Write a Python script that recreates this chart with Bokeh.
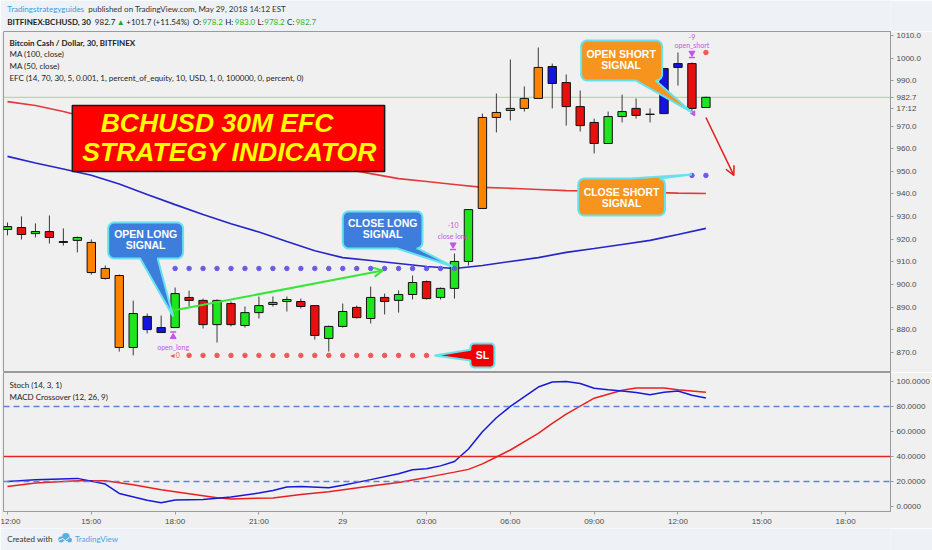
import numpy as np
from bokeh.plotting import figure
from bokeh.layouts import column
from bokeh.models import (Range1d, FixedTicker, PrintfTickFormatter, Span, Arrow,
                          OpenHead, ColumnDataSource)
from bokeh.core.properties import value
from bokeh.embed import file_html
from bokeh.resources import INLINE

# ---------------- BCHUSD 30-minute bars (Bitfinex), 28 May 12:00 -> 29 May 13:00 ----------------
bar_open = [924.3, 925.2, 922.5, 923.4, 919.0, 919.5, 918.6, 907.1, 904.0, 872.2,
            885.9, 881.0, 881.0, 894.3, 893.0, 882.3, 891.6, 881.9, 887.6, 891.2,
            892.5, 892.5, 890.7, 876.2, 881.5, 889.9, 885.0, 894.3, 893.0, 895.6,
            901.3, 894.3, 898.3, 910.2, 933.6, 973.8, 976.9, 977.8, 982.2, 996.3,
            989.2, 978.6, 971.6, 962.3, 974.2, 977.8, 975.1, 975.5, 995.9, 997.6,
            978.2]
bar_high = [927.4, 930.1, 927.0, 930.5, 924.8, 921.2, 919.9, 908.4, 904.4, 892.9,
            887.2, 886.3, 898.7, 897.3, 893.8, 893.4, 892.5, 890.3, 894.7, 894.7,
            894.7, 893.8, 890.7, 881.9, 891.6, 890.7, 899.1, 896.0, 897.4, 904.0,
            901.8, 898.7, 913.7, 933.1, 975.5, 984.4, 999.4, 987.5, 1004.7, 997.6,
            992.8, 985.7, 973.3, 976.4, 983.9, 982.2, 977.8, 995.4, 1002.5, 998.1,
            983.0]
bar_low = [921.7, 919.9, 920.8, 918.1, 917.2, 914.2, 904.4, 902.2, 870.4, 868.7,
           878.4, 878.8, 881.0, 890.3, 880.6, 874.4, 881.5, 881.0, 885.0, 890.3,
           888.1, 889.4, 875.7, 870.4, 881.0, 885.0, 882.8, 886.8, 887.6, 893.4,
           893.4, 893.4, 893.8, 908.4, 933.6, 967.2, 972.5, 976.4, 982.2, 977.8,
           970.2, 967.6, 957.9, 962.3, 971.6, 973.3, 971.6, 975.5, 987.9, 976.0,
           978.2]
bar_close = [925.6, 922.1, 923.4, 920.8, 918.6, 920.8, 905.3, 902.7, 872.2, 887.2,
             880.1, 878.8, 896.0, 893.0, 882.3, 893.0, 882.3, 887.6, 890.7, 892.1,
             893.4, 890.3, 877.5, 881.5, 888.1, 885.4, 894.3, 892.5, 895.6, 900.9,
             893.8, 898.3, 910.2, 933.1, 973.8, 976.0, 977.8, 982.2, 995.9, 988.8,
             978.6, 970.2, 962.3, 974.2, 976.4, 974.7, 975.3, 995.4, 997.6, 977.8,
             982.7]
# EFC bar colouring: g = bull, r = bear, o = momentum, b = exhaustion
bar_regime = list("grgrrgooogbbgrrgrggggrrggrgrggrgggooooobrrrggrgbbrg")

# moving averages (read every second bar)
ma_bar = list(range(0, 51, 2))
ma100 = [980.8, 979.1, 976.4, 973.3, 970.7, 968.0, 965.4, 962.7, 960.1, 957.9,
         955.7, 953.5, 951.3, 949.0, 946.8, 945.5, 944.2, 942.9, 942.5, 942.0,
         941.5, 941.3, 941.1, 940.7, 940.4, 940.2]
ma50 = [956.6, 953.7, 951.0, 948.3, 944.4, 939.8, 935.3, 930.9, 926.9, 923.2,
        919.0, 914.9, 911.9, 910.6, 909.3, 908.0, 907.1, 908.4, 910.2, 911.9,
        914.2, 915.9, 917.7, 919.5, 922.1, 924.8]

# stochastic %K and %D
k_bar = [0, 2, 5, 7, 8, 10, 11, 12, 14, 16, 18, 19, 20, 21, 23, 24, 26, 28, 29, 30,
         31, 32, 33, 34, 35, 36, 38, 39, 40, 41, 42, 43, 44, 45, 46, 47, 48, 49, 50]
k_val = [20.1, 21.4, 22.5, 18.0, 10.5, 5.0, 3.0, 5.3, 5.6, 7.6, 10.8, 12.9, 15.6, 16.1,
         15.1, 17.0, 21.5, 26.2, 29.4, 30.2, 32.5, 36.0, 46.0, 59.8, 71.0, 80.0, 95.5,
         99.5, 100.0, 98.4, 94.5, 93.3, 92.4, 91.2, 89.4, 91.3, 92.3, 88.9, 86.7]
d_bar = [0, 2, 5, 7, 9, 11, 13, 15, 16, 19, 21, 23, 26, 28, 30, 32, 33, 34, 35, 36,
         38, 39, 40, 42, 44, 45, 47, 48, 50]
d_val = [16.1, 18.8, 20.6, 20.6, 17.5, 13.4, 10.3, 7.0, 6.1, 6.9, 9.6, 11.8, 16.4,
         19.3, 23.3, 27.5, 29.7, 34.1, 39.6, 45.2, 58.5, 66.4, 73.8, 86.6, 93.0, 94.7,
         94.7, 93.4, 91.3]

# strategy levels
long_target = 907.1
long_target_bars = list(range(12, 33))
long_stop = 868.7
long_stop_bars = list(range(13, 31))
short_stop = 1002.5
short_stop_bars = [50]
short_target = 948.2
short_target_bars = [49, 50]
last_price = 982.7
bar_countdown = "17:12"

time_tick_bars = [0, 6, 12, 18, 24, 30, 36, 42, 48, 54, 60]
time_tick_labels = ["12:00", "15:00", "18:00", "21:00", "29", "03:00",
                    "06:00", "09:00", "12:00", "15:00", "18:00"]
price_ticks = [870, 880, 890, 900, 910, 920, 930, 940, 950, 960, 970, 990, 1000, 1010]
osc_ticks = [0, 20, 40, 60, 80, 100]
osc_bands = [20, 80]
osc_signal = 40

# ---------------- layout ----------------
W = 932
LEFT, RIGHT = 3, 40
BAR_PX = 14.0
FRAME_W = W - LEFT - RIGHT
HEAD_H, MAIN_H, OSC_H, OSC_AXIS, FOOT_H = 31, 341, 156, 16, 22
X0 = -4.0 / BAR_PX
xr = Range1d(X0, X0 + FRAME_W / BAR_PX)
P_TOP, P_BOT = 1011.77, 861.15
USD_PX = MAIN_H / (P_TOP - P_BOT)

PANE_BG = "#f0f0f0"
PAGE_BG = "#eef2f6"
UI = value("Lato")
SANS = value("Liberation Sans")
VIOLET = "#c255e6"


def style_right_axis(ax, ticks, fmt):
    ax.ticker = FixedTicker(ticks=ticks)
    ax.formatter = PrintfTickFormatter(format=fmt)
    ax.major_label_text_font = "Liberation Sans"
    ax.major_label_text_font_size = "8px"
    ax.major_label_text_color = "#4a4a4a"
    ax.axis_line_color = "#9a9a9a"
    ax.major_tick_line_color = "#9a9a9a"
    ax.major_tick_in = 0
    ax.major_tick_out = 3
    ax.minor_tick_line_color = None
    ax.major_label_standoff = 3


# ---------------- header ----------------
head = figure(width=W, height=HEAD_H, x_range=Range1d(0, W), y_range=Range1d(HEAD_H, 0),
              output_backend="svg", toolbar_location=None, x_axis_location=None,
              y_axis_location=None, min_border=0, outline_line_color=None,
              background_fill_color=PAGE_BG, border_fill_color=PAGE_BG)
head.xgrid.visible = False
head.ygrid.visible = False
GREEN_TXT = "#2cb52c"
head_rows = [
    (4, 8, "Tradingstrategyguides", "#3d9ad9", "normal"),
    (89, 8, "published on TradingView.com, May 29, 2018 14:12 EST", "#333333", "normal"),
    (4, 21, "BITFINEX:BCHUSD, 30", "#222222", "bold"),
    (96, 21, "982.7", "#222222", "normal"),
    (119, 21, "\u25b2", "#22a822", "normal"),
    (129, 21, "+101.7 (+11.54%)", "#222222", "normal"),
    (199, 21, "O:", "#222222", "normal"),
    (209, 21, "978.2", GREEN_TXT, "normal"),
    (233, 21, "H:", "#222222", "normal"),
    (243, 21, "983.0", GREEN_TXT, "normal"),
    (267, 21, "L:", "#222222", "normal"),
    (274, 21, "978.2", GREEN_TXT, "normal"),
    (298, 21, "C:", "#222222", "normal"),
    (307, 21, "982.7", GREEN_TXT, "normal"),
]
for hx, hy, txt, col, wt in head_rows:
    head.text(x=[hx], y=[hy], text=[txt], text_font=UI, text_font_size="8px",
              text_color=col, text_font_style=wt, text_baseline="middle")

# ---------------- price pane ----------------
main = figure(width=W, height=MAIN_H, x_range=xr, y_range=Range1d(P_BOT, P_TOP),
              output_backend="svg", toolbar_location=None, y_axis_location="right",
              x_axis_location=None, min_border_left=LEFT, min_border_right=RIGHT,
              min_border_top=0, min_border_bottom=0, background_fill_color=PANE_BG,
              border_fill_color=PANE_BG, outline_line_color="#9a9a9a")
main.xgrid.visible = False
main.ygrid.visible = False

# price scale, with the last-price tag and bar countdown sitting on it
countdown_at = round(last_price - 11 / USD_PX, 1)
style_right_axis(main.yaxis[0], price_ticks + [last_price, countdown_at], "%.1f")
main.yaxis[0].major_label_overrides = {last_price: "%.1f" % last_price,
                                       countdown_at: bar_countdown}

main.add_layout(Span(location=last_price, dimension="width", line_color="#8fe08f",
                     line_width=1, level="underlay"))

main.line(ma_bar, ma100, line_color="#e23a3a", line_width=1.6)
main.line(ma_bar, ma50, line_color="#2525c8", line_width=1.6)

regime_color = {"g": "#1ee61e", "r": "#e80f0f", "o": "#ff8200", "b": "#1414e0"}
bars = ColumnDataSource(dict(
    x=list(range(len(bar_open))),
    top=[max(o, c) for o, c in zip(bar_open, bar_close)],
    bottom=[min(o, c) for o, c in zip(bar_open, bar_close)],
    high=bar_high, low=bar_low,
    color=[regime_color[r] for r in bar_regime],
))
main.segment(x0="x", y0="low", x1="x", y1="high", line_color="#3a3a3a", line_width=1,
             source=bars)
main.vbar(x="x", width=0.6, top="top", bottom="bottom", fill_color="color",
          line_color="#111111", line_width=1, source=bars)

# strategy target / stop dots
main.scatter(long_target_bars, [long_target] * len(long_target_bars), size=4.5,
             color="#6a5ae8")
main.scatter(long_stop_bars, [long_stop] * len(long_stop_bars), size=4.5, color="#ee5a5a")
main.scatter(short_stop_bars, [short_stop] * len(short_stop_bars), size=4.5, color="#ee5a5a")
main.scatter(short_target_bars, [short_target] * len(short_target_bars), size=4.5,
             color="#6a5ae8")

# order markers
main.scatter([11.86], [876.9], marker="triangle", size=6, color=VIOLET)
main.scatter([11.86], [879.0], marker="dash", size=6, line_color=VIOLET, line_width=1.5)
main.text(x=[11.86], y=[872.4], text=["open_long"], text_font=UI, text_font_size="7px",
          text_color=VIOLET, text_align="center", text_baseline="middle")
main.text(x=[11.95], y=[868.7], text=["\u25c40"], text_font=UI, text_font_size="7px",
          text_color="#e85a5a", text_align="center", text_baseline="middle")
main.text(x=[31.9], y=[926.1], text=["-10"], text_font=UI, text_font_size="7px",
          text_color=VIOLET, text_align="center", text_baseline="middle")
main.text(x=[31.9], y=[921.3], text=["close long"], text_font=UI, text_font_size="7px",
          text_color=VIOLET, text_align="center", text_baseline="middle")
main.scatter([31.9], [917.6], marker="inverted_triangle", size=6, color=VIOLET)
main.scatter([31.9], [915.5], marker="dash", size=6, line_color=VIOLET, line_width=1.5)
main.text(x=[49.0], y=[1009.4], text=["-9"], text_font=UI, text_font_size="7px",
          text_color=VIOLET, text_align="center", text_baseline="middle")
main.text(x=[49.0], y=[1005.6], text=["open_short"], text_font=UI, text_font_size="7px",
          text_color=VIOLET, text_align="center", text_baseline="middle")
main.scatter([49.0], [1002.3], marker="inverted_triangle", size=6, color=VIOLET)
main.scatter([49.0], [1000.3], marker="dash", size=6, line_color=VIOLET, line_width=1.5)
main.scatter([49.1], [975.6], marker="triangle", angle=np.pi / 2, size=5, color=VIOLET)

# trade direction arrows
main.add_layout(Arrow(end=OpenHead(size=9, line_color="#36e836", line_width=2),
                      x_start=11.86, y_start=888.5, x_end=26.86, y_end=906.2,
                      line_color="#36e836", line_width=2))
main.add_layout(Arrow(end=OpenHead(size=9, line_color="#e81a1a", line_width=1.5),
                      x_start=50.0, y_start=973.8, x_end=52.0, y_end=948.2,
                      line_color="#e81a1a", line_width=1.5))


def callout(fig, box, side, span, tip, fill, r=6.0):
    """Rounded speech-bubble; box/span/tip in bar-index and price units."""
    i0, i1, top, bot = box
    x0, x1, y0, y1 = i0 * BAR_PX, i1 * BAR_PX, bot * USD_PX, top * USD_PX
    if side in ("top", "bottom"):
        s0, s1 = span[0] * BAR_PX, span[1] * BAR_PX
    else:
        s0, s1 = span[0] * USD_PX, span[1] * USD_PX
    tp = (tip[0] * BAR_PX, tip[1] * USD_PX)
    pts = []

    def arc(cx, cy, a0):
        for t in np.linspace(a0, a0 + np.pi / 2, 6):
            pts.append((cx + r * np.cos(t), cy + r * np.sin(t)))

    arc(x1 - r, y1 - r, 0.0)
    if side == "top":
        pts.extend([(s1, y1), tp, (s0, y1)])
    arc(x0 + r, y1 - r, np.pi / 2)
    if side == "left":
        pts.extend([(x0, s1), tp, (x0, s0)])
    arc(x0 + r, y0 + r, np.pi)
    if side == "bottom":
        pts.extend([(s0, y0), tp, (s1, y0)])
    arc(x1 - r, y0 + r, 1.5 * np.pi)
    if side == "right":
        pts.extend([(x1, s0), tp, (x1, s1)])
    fig.patch([q[0] / BAR_PX for q in pts], [q[1] / USD_PX for q in pts],
              fill_color=fill, line_color="#66e2ee", line_width=2)


def bubble_text(fig, x, ys, lines, size="10.5px", color="white"):
    fig.text(x=[x] * len(lines), y=ys, text=lines, text_font=SANS, text_font_size=size,
             text_font_style="bold", text_color=color, text_align="center",
             text_baseline="middle")


BLUE_BOX = "#3d7edc"
ORANGE_BOX = "#f7941e"

callout(main, (7.21, 12.57, 927.4, 911.5), "bottom", (9.5, 10.75), (11.86, 885.9), BLUE_BOX)
bubble_text(main, 9.89, [922.5, 917.3], ["OPEN LONG", "SIGNAL"])

callout(main, (24.0, 29.71, 932.3, 915.9), "bottom", (27.9, 29.4), (31.86, 908.0), BLUE_BOX)
bubble_text(main, 26.86, [927.4, 922.4], ["CLOSE LONG", "SIGNAL"])

callout(main, (41.07, 46.86, 1007.8, 990.1), "bottom", (45.0, 46.4), (49.0, 976.0), ORANGE_BOX)
bubble_text(main, 43.93, [1001.9, 997.0], ["OPEN SHORT", "SIGNAL"])

callout(main, (40.86, 47.07, 946.8, 930.5), "top", (44.6, 46.7), (49.0, 948.6), ORANGE_BOX)
bubble_text(main, 43.96, [940.8, 936.2], ["CLOSE SHORT", "SIGNAL"])

callout(main, (33.14, 34.86, 874.0, 863.4), "left", (866.4, 871.2), (30.57, 868.7), "#ee0000",
        r=4.0)
bubble_text(main, 34.0, [868.7], ["SL"])

# headline banner
main.quad(left=[4.64], right=[27.0], top=[979.1], bottom=[949.9], fill_color="#ff0000",
          line_color="#1a1a1a", line_width=1.5)
main.text(x=[15.0, 15.9], y=[971.4, 958.4], text=["BCHUSD 30M EFC", "STRATEGY INDICATOR"],
          text_font=SANS, text_font_size="26.5px", text_font_style="bold italic",
          text_color="#ffff00", text_align="center", text_baseline="middle")

# pane legend
leg_x = X0 + 6 / BAR_PX
leg_rows = [("Bitcoin Cash / Dollar, 30, BITFINEX", "bold"), ("MA (100, close)", "normal"),
            ("MA (50, close)", "normal"),
            ("EFC (14, 70, 30, 5, 0.001, 1, percent_of_equity, 10, USD, 1, 0, 100000, 0, "
             "percent, 0)", "normal")]
for k, (txt, wt) in enumerate(leg_rows):
    main.text(x=[leg_x], y=[P_TOP - (11 + 11.7 * k) / USD_PX], text=[txt], text_font=UI,
              text_font_size="8px", text_font_style=wt, text_color="#222222",
              text_baseline="middle")

# ---------------- oscillator pane ----------------
O_TOP = 100 + 9 / 1.26
O_BOT = -5 / 1.26
osc = figure(width=W, height=OSC_H, x_range=xr, y_range=Range1d(O_BOT, O_TOP),
             output_backend="svg", toolbar_location=None, y_axis_location="right",
             x_axis_location="below", min_border_left=LEFT, min_border_right=RIGHT,
             min_border_top=0, min_border_bottom=OSC_AXIS, background_fill_color=PANE_BG,
             border_fill_color=PANE_BG, outline_line_color="#9a9a9a")
osc.xgrid.visible = False
osc.ygrid.visible = False
style_right_axis(osc.yaxis[0], osc_ticks, "%.4f")
xa = osc.xaxis[0]
xa.ticker = FixedTicker(ticks=time_tick_bars)
xa.major_label_overrides = {b: s for b, s in zip(time_tick_bars, time_tick_labels)}
xa.major_label_text_font = "Liberation Sans"
xa.major_label_text_font_size = "8px"
xa.major_label_text_color = "#4a4a4a"
xa.axis_line_color = "#9a9a9a"
xa.major_tick_line_color = "#9a9a9a"
xa.major_tick_in = 0
xa.major_tick_out = 3
xa.minor_tick_line_color = None
xa.major_label_standoff = 2

for lvl in osc_bands:
    osc.add_layout(Span(location=lvl, dimension="width", line_color="#5d82dc",
                        line_width=1.4, line_dash="6 4"))
osc.add_layout(Span(location=osc_signal, dimension="width", line_color="#e02828",
                    line_width=1.6))
osc.line(d_bar, d_val, line_color="#e82020", line_width=1.5)
osc.line(k_bar, k_val, line_color="#1818d8", line_width=1.5)

osc_leg_x = X0 + 6 / BAR_PX
osc.text(x=[osc_leg_x, osc_leg_x], y=[O_TOP - 13 / 1.26, O_TOP - 25 / 1.26],
         text=["Stoch (14, 3, 1)", "MACD Crossover (12, 26, 9)"], text_font=UI,
         text_font_size="8px", text_color="#222222", text_baseline="middle")

# ---------------- footer ----------------
foot = figure(width=W, height=FOOT_H, x_range=Range1d(0, W), y_range=Range1d(FOOT_H, 0),
              output_backend="svg", toolbar_location=None, x_axis_location=None,
              y_axis_location=None, min_border=0, outline_line_color=None,
              background_fill_color=PAGE_BG, border_fill_color=PAGE_BG)
foot.xgrid.visible = False
foot.ygrid.visible = False
foot.text(x=[4], y=[10], text=["Created with"], text_font=UI, text_font_size="8px",
          text_color="#333333", text_baseline="middle")
foot.ellipse(x=[60.5, 65.5, 69.5], y=[11, 8.5, 11.5], width=[6, 8, 5], height=[6, 8, 5],
             fill_color="#5aaee2", line_color=None)
foot.line([58, 62, 65, 69], [12, 10, 12, 9], line_color="white", line_width=1)
foot.text(x=[75], y=[10], text=["TradingView"], text_font=UI, text_font_size="8px",
          text_color="#4aa3df", text_baseline="middle")

layout = column(head, main, osc, foot, spacing=0)
open("out.html", "w").write(file_html(layout, INLINE))
